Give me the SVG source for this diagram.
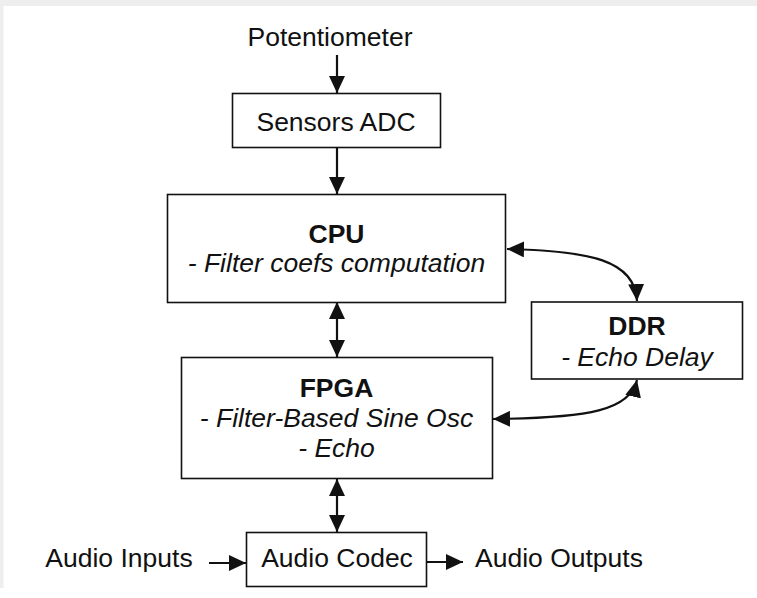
<svg xmlns="http://www.w3.org/2000/svg" width="757" height="598" viewBox="0 0 757 598">
  <style>
    .box { fill: #ffffff; stroke: #111111; stroke-width: 1.6; }
    .lbl { font-family: "Liberation Sans", Arial, sans-serif; font-size: 26.5px; fill: #111111; text-anchor: middle; }
    .b { font-weight: bold; }
    .i { font-style: italic; }
    .wire { fill: none; stroke: #111111; stroke-width: 2.2; }
  </style>
  <defs>
    <marker id="ah" viewBox="0 0 17 16" refX="17" refY="8" markerWidth="17" markerHeight="16" markerUnits="userSpaceOnUse" orient="auto-start-reverse">
      <path d="M0,0 L17,8 L0,16 z" fill="#111111"/>
    </marker>
  </defs>

  <!-- page background with thin grey margin -->
  <rect x="0" y="0" width="757" height="598" fill="#ffffff"/>
  <rect x="0" y="0" width="757" height="6" fill="#eeeeee"/>
  <rect x="0" y="0" width="3.5" height="588" fill="#eeeeee"/>

  <!-- connectors -->
  <g id="connectors">
    <line class="wire" x1="337" y1="55" x2="337" y2="93" marker-end="url(#ah)"/>
    <line class="wire" x1="337" y1="147" x2="337" y2="194" marker-end="url(#ah)"/>
    <line class="wire" x1="337" y1="302" x2="337" y2="357" marker-start="url(#ah)" marker-end="url(#ah)"/>
    <line class="wire" x1="337" y1="479" x2="337" y2="532" marker-start="url(#ah)" marker-end="url(#ah)"/>
    <path class="wire" d="M507,249 C590,251 635,260 637,301" marker-start="url(#ah)" marker-end="url(#ah)"/>
    <path class="wire" d="M493,419 C590,418 630,410 637,380" marker-start="url(#ah)" marker-end="url(#ah)"/>
    <line class="wire" x1="209" y1="563" x2="246" y2="563" marker-end="url(#ah)"/>
    <line class="wire" x1="427" y1="562" x2="463" y2="562" marker-end="url(#ah)"/>
  </g>

  <!-- free labels -->
  <g id="potentiometer">
    <text class="lbl" x="330" y="46">Potentiometer</text>
  </g>
  <g id="audio-inputs">
    <text class="lbl" x="119" y="567">Audio Inputs</text>
  </g>
  <g id="audio-outputs">
    <text class="lbl" x="559" y="567">Audio Outputs</text>
  </g>

  <!-- blocks -->
  <g id="sensors-adc">
    <rect class="box" x="232.5" y="93.5" width="208" height="54"/>
    <text class="lbl" x="336" y="131">Sensors ADC</text>
  </g>
  <g id="cpu">
    <rect class="box" x="167.5" y="194.5" width="338" height="108"/>
    <text class="lbl b" x="336.5" y="243">CPU</text>
    <text class="lbl i" x="336.5" y="272">- Filter coefs computation</text>
  </g>
  <g id="ddr">
    <rect class="box" x="531.5" y="302" width="211" height="77"/>
    <text class="lbl b" x="637" y="335">DDR</text>
    <text class="lbl i" x="637" y="366">- Echo Delay</text>
  </g>
  <g id="fpga">
    <rect class="box" x="181.5" y="357.5" width="311" height="121"/>
    <text class="lbl b" x="336.5" y="397">FPGA</text>
    <text class="lbl i" x="336.5" y="427">- Filter-Based Sine Osc</text>
    <text class="lbl i" x="336.5" y="457">- Echo</text>
  </g>
  <g id="audio-codec">
    <rect class="box" x="246.5" y="532.5" width="180" height="54"/>
    <text class="lbl" x="337" y="567">Audio Codec</text>
  </g>
</svg>
